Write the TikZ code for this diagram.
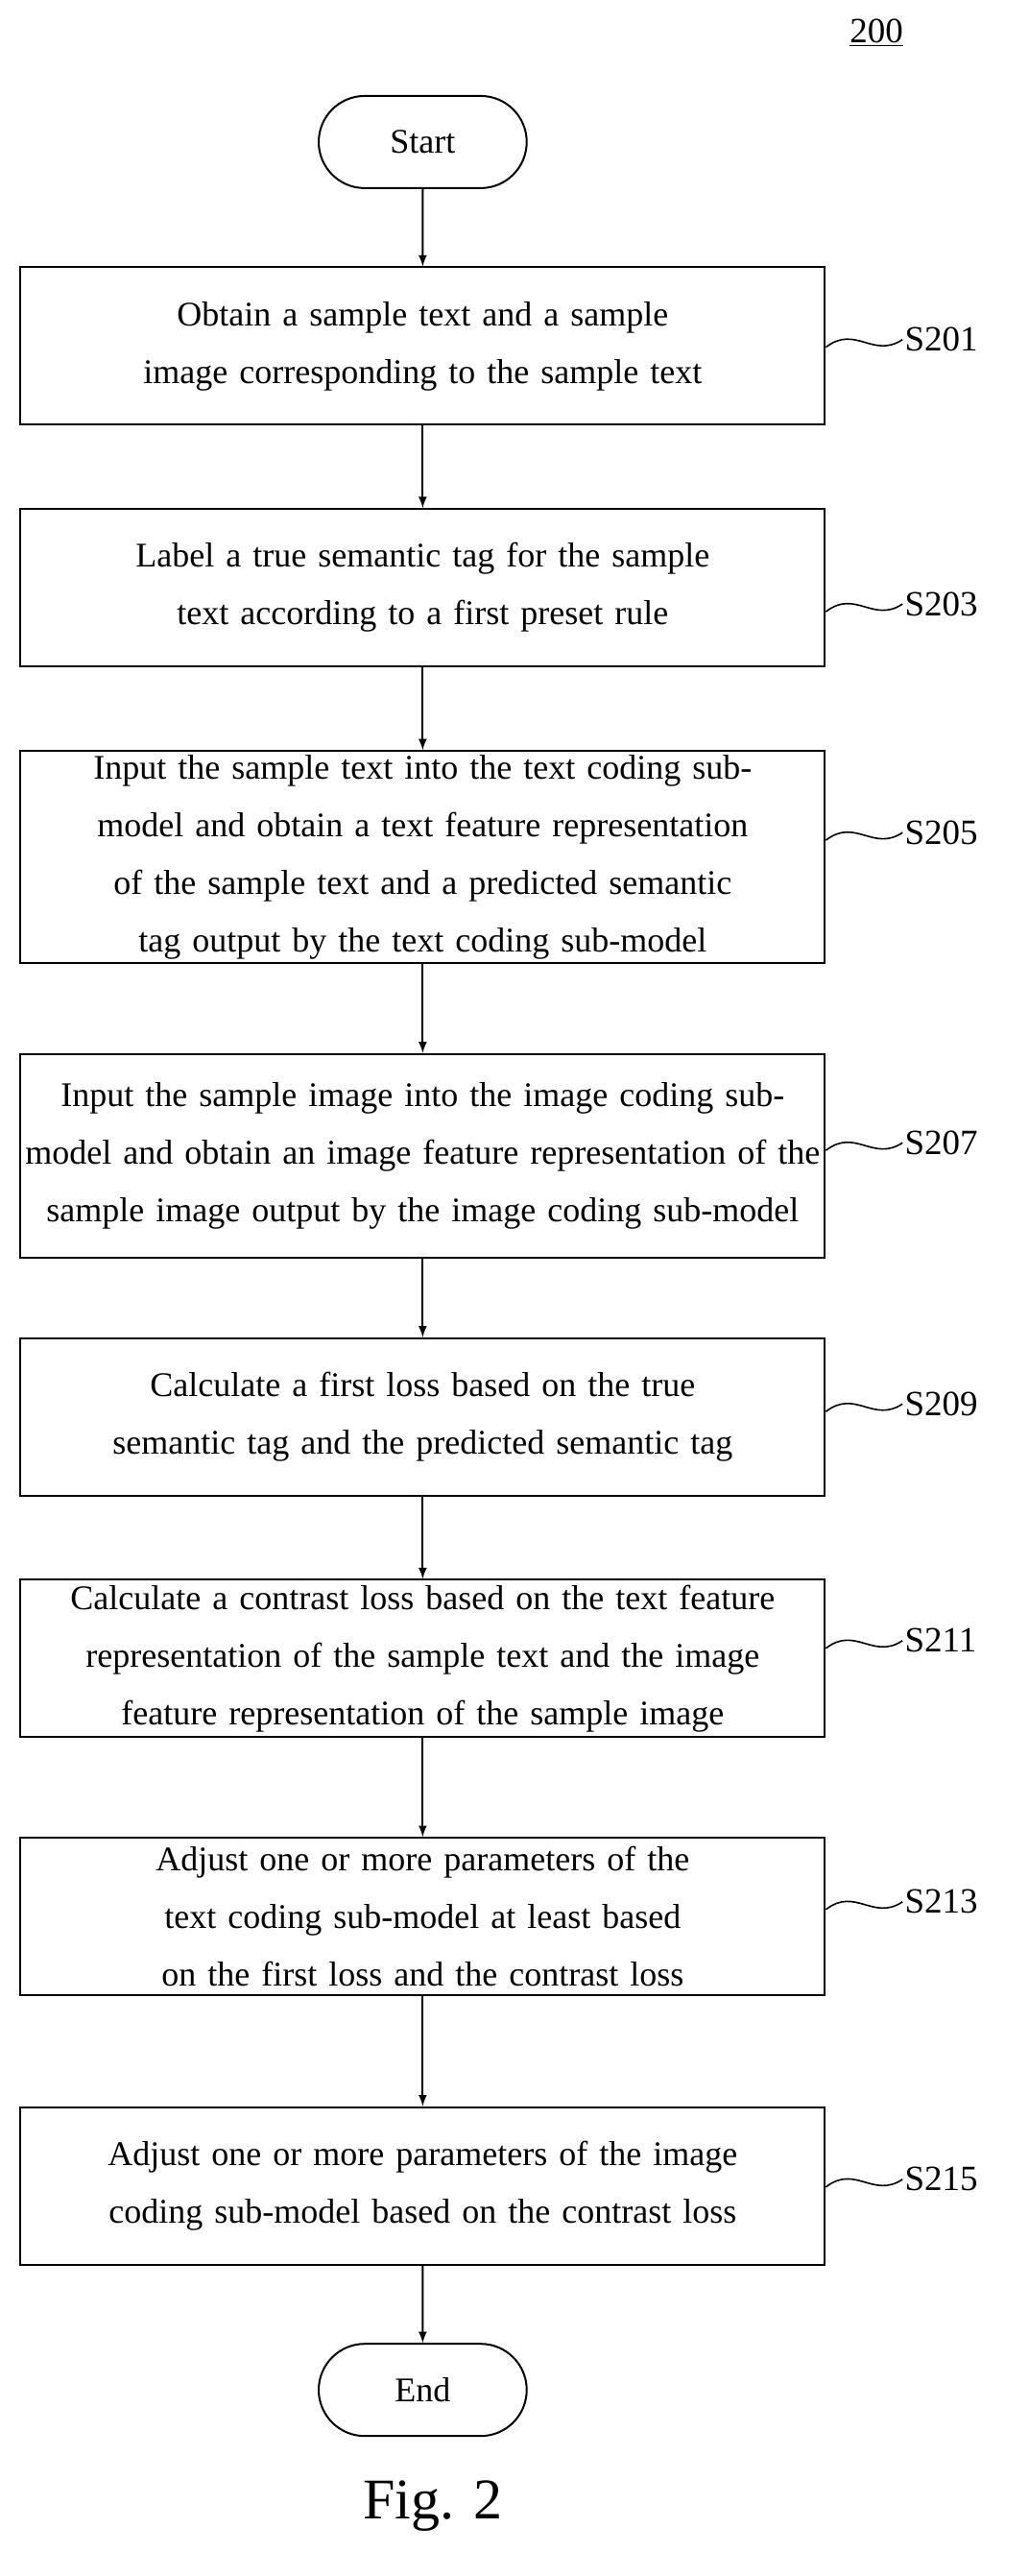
\documentclass[tikz,border=0pt]{standalone}
\usepackage{fontspec}
\setmainfont{Liberation Serif}
\usetikzlibrary{shapes.misc}
\hyphenpenalty=10000
\exhyphenpenalty=0
\begin{document}
\begin{tikzpicture}[x=0.85pt,y=-0.85pt,>=latex]
\tikzstyle{stepbox} = [draw=black, line width=1pt, minimum width=419pt, minimum height=82pt, text width=414pt, align=center, inner sep=2pt, font=\fontsize{18}{30}\selectfont]
\tikzstyle{term} = [draw=black, line width=1pt, rounded rectangle, minimum width=115pt, minimum height=48pt, font=\fontsize{18}{22}\selectfont]
\tikzstyle{tag} = [anchor=west, inner sep=1pt, font=\fontsize{18.5}{22}\selectfont]
\tikzstyle{edge} = [draw=black, line width=1pt, ->]
\tikzstyle{wave} = [draw=black, line width=0.8pt]
\useasboundingbox (0,0) rectangle (630,1578);

\node at (537,20) {\fontsize{18.5}{22}\selectfont\underline{200}};
\node[term] (start) at (259,87) {Start};
\node[stepbox] (s201) at (259,212) {Obtain a sample text and a sample image corresponding to the sample text};
\node[stepbox] (s203) at (259,360) {Label a true semantic tag for the sample text according to a first preset rule};
\node[stepbox, minimum height=106pt] (s205) at (259,525) {Input the sample text into the text coding sub-model and obtain a text feature representation of the sample text and a predicted semantic tag output by the text coding sub-model};
\node[stepbox, minimum height=106pt] (s207) at (259,708) {Input the sample image into the image coding sub-model and obtain an image feature representation of the sample image output by the image coding sub-model};
\node[stepbox] (s209) at (259,868) {Calculate a first loss based on the true semantic tag and the predicted semantic tag};
\node[stepbox] (s211) at (259,1016) {Calculate a contrast loss based on the text feature representation of the sample text and the image feature representation of the sample image};
\node[stepbox] (s213) at (259,1174) {Adjust one or more parameters of the text coding sub-model at least based on the first loss and the contrast loss};
\node[stepbox] (s215) at (259,1339) {Adjust one or more parameters of the image coding sub-model based on the contrast loss};
\node[term] (end) at (259,1464) {End};
\node (fig) at (265,1535) {\fontsize{30}{34}\selectfont Fig. 2};

\node[tag] (l201) at (553,208) {S201};
\node[tag] (l203) at (553,370) {S203};
\node[tag] (l205) at (553,510) {S205};
\node[tag] (l207) at (553,700) {S207};
\node[tag] (l209) at (553,860) {S209};
\node[tag] (l211) at (553,1005) {S211};
\node[tag] (l213) at (553,1165) {S213};
\node[tag] (l215) at (553,1335) {S215};

\draw[edge] (start) -- (s201);
\draw[edge] (s201) -- (s203);
\draw[edge] (s203) -- (s205);
\draw[edge] (s205) -- (s207);
\draw[edge] (s207) -- (s209);
\draw[edge] (s209) -- (s211);
\draw[edge] (s211) -- (s213);
\draw[edge] (s213) -- (s215);
\draw[edge] (s215) -- (end);

\foreach \n in {201,203,205,207,209,211,213,215}
  \draw[wave] ([yshift=-4pt]s\n.east |- l\n.west) .. controls +(18,-14) and +(-18,12) .. (l\n.west);
\end{tikzpicture}
\end{document}
